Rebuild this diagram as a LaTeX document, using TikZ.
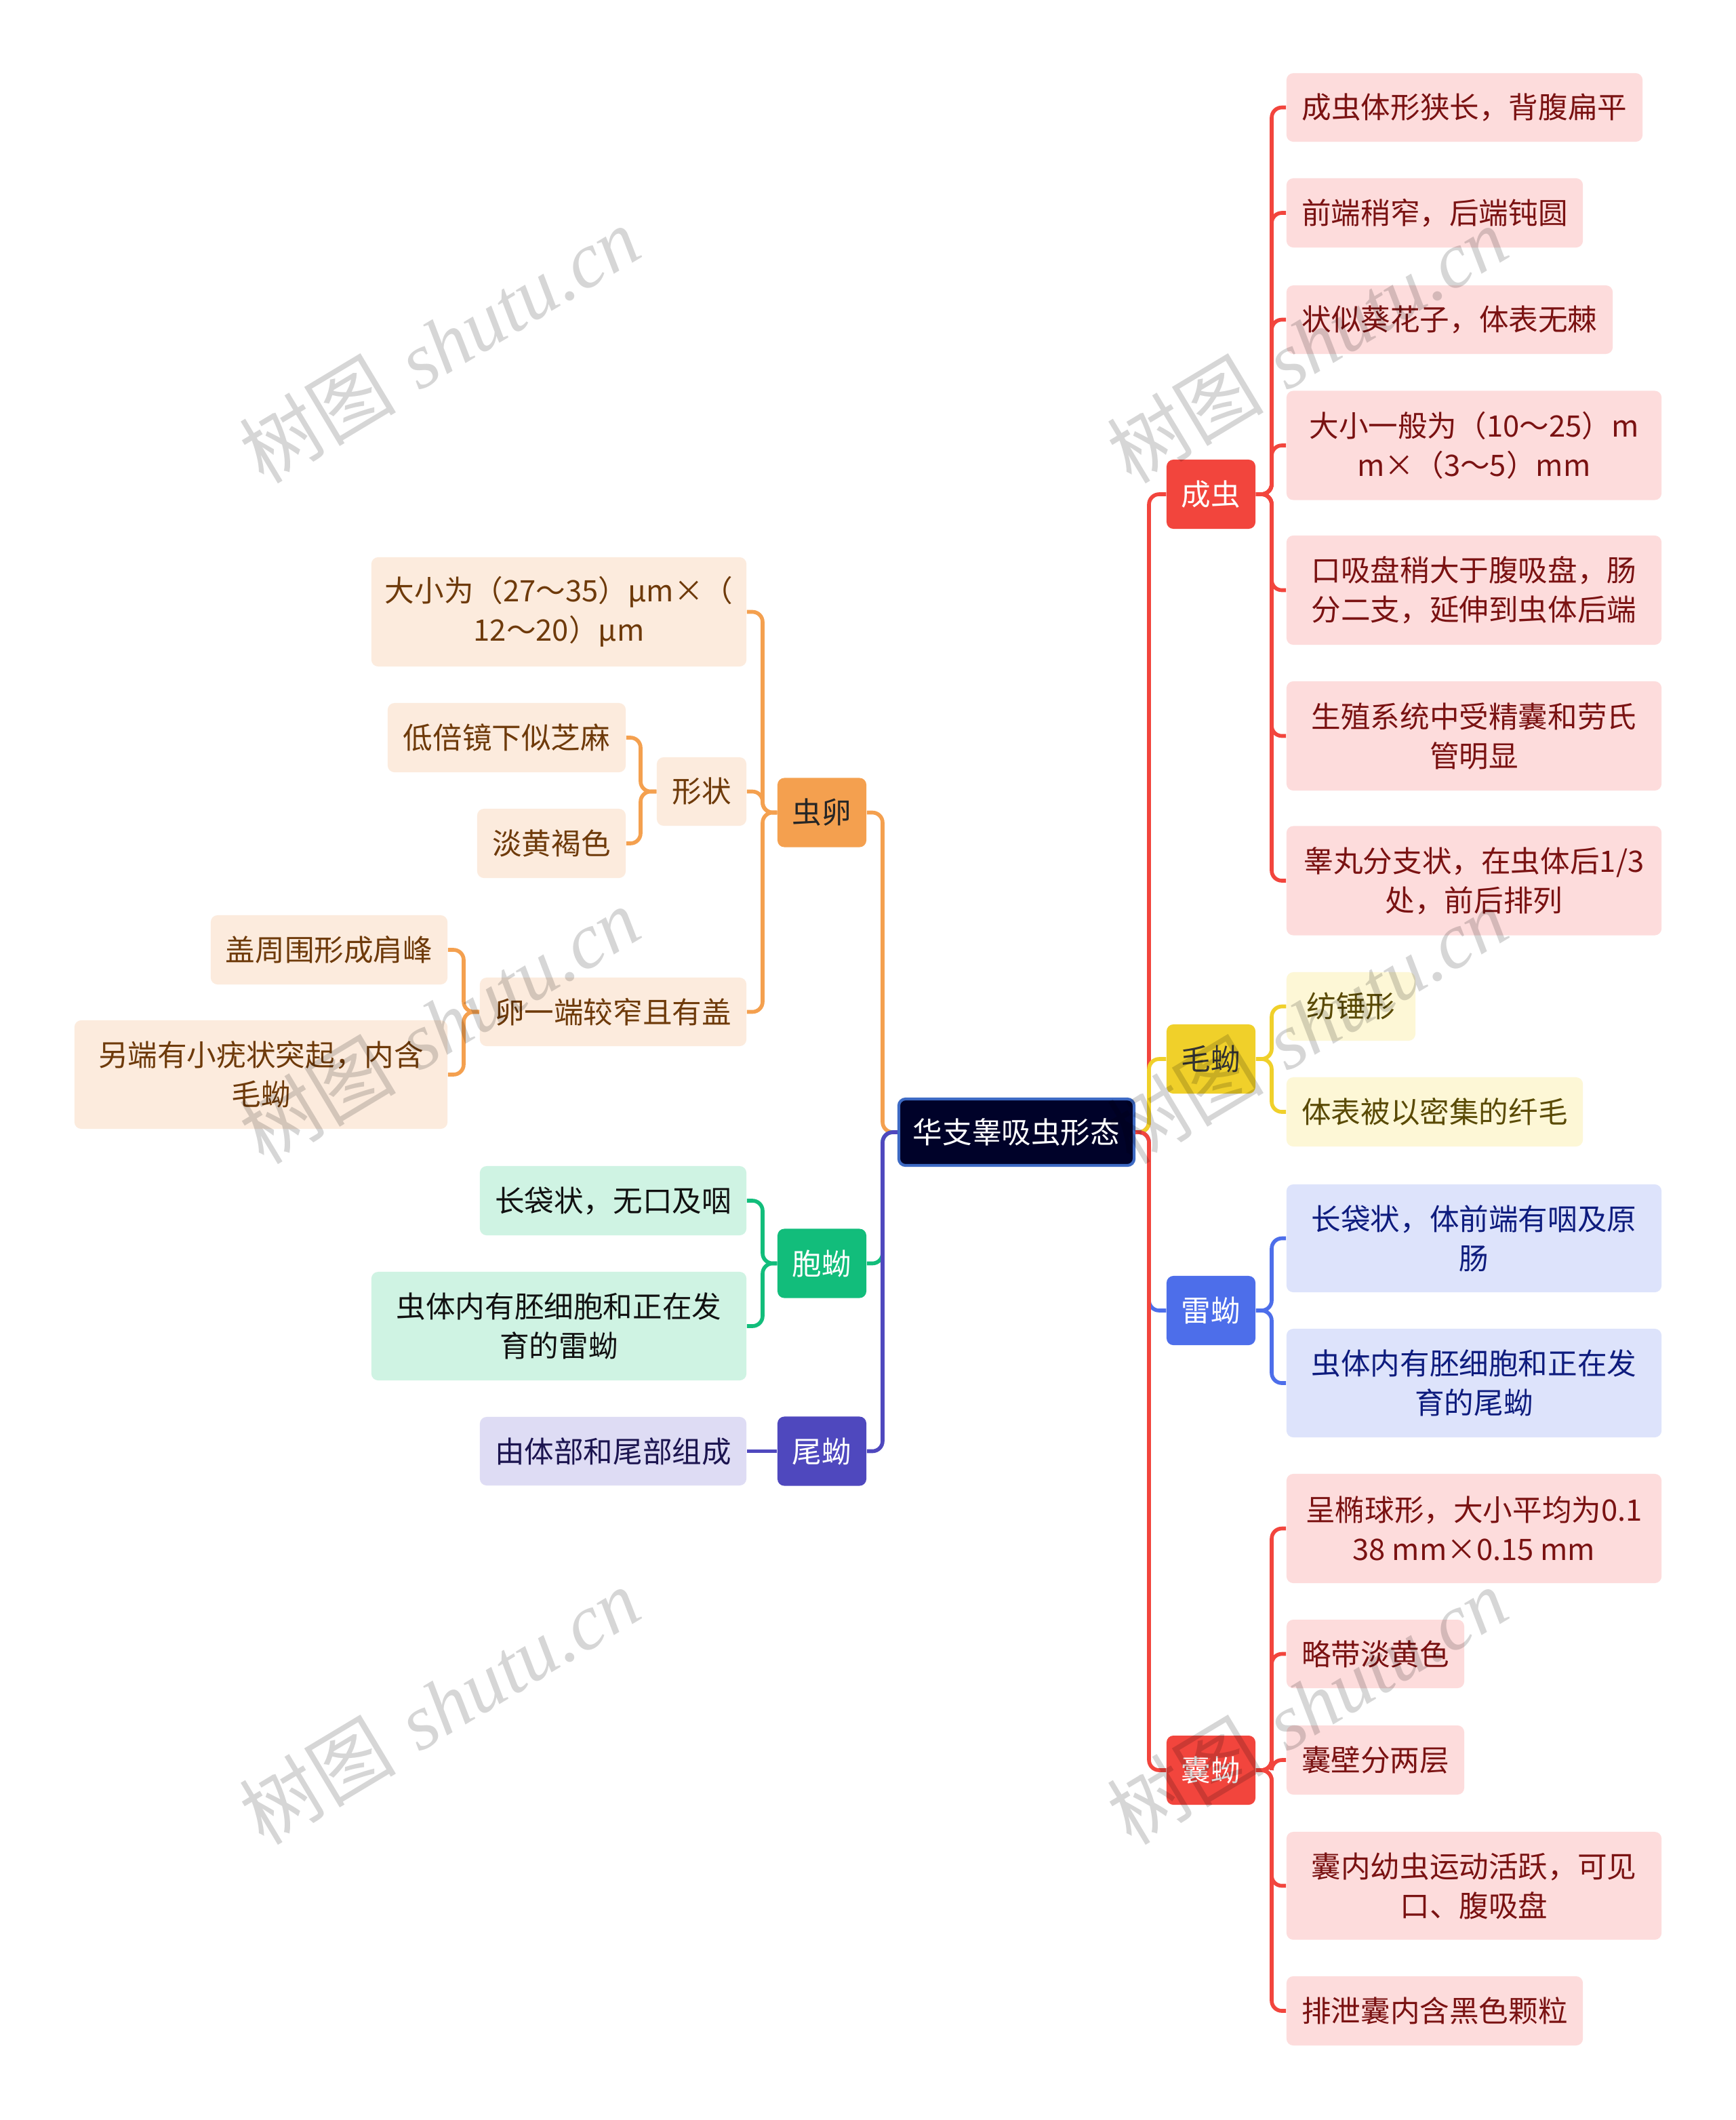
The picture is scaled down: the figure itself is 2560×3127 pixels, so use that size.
\documentclass[tikz,border=0pt]{standalone}
\usepackage{fontspec}
\newfontfamily\cjk{Noto Sans CJK SC}
\newfontfamily\wmserif{Liberation Serif}
\definecolor{cRed}{HTML}{F2453D}
\definecolor{cYel}{HTML}{F0D02A}
\definecolor{cBlu}{HTML}{4D6EEA}
\definecolor{cOra}{HTML}{F4A04F}
\definecolor{cGrn}{HTML}{12BD7B}
\definecolor{cInd}{HTML}{4F48BE}
\definecolor{rootF}{HTML}{000229}
\definecolor{rootB}{HTML}{3D6AC4}
\definecolor{pinkF}{HTML}{FDDCDC}
\definecolor{pinkT}{HTML}{7A1212}
\definecolor{yelF}{HTML}{FDF7D6}
\definecolor{yelT}{HTML}{5A4A05}
\definecolor{bluF}{HTML}{DDE3FB}
\definecolor{bluT}{HTML}{0E1C7E}
\definecolor{oraF}{HTML}{FCEBDD}
\definecolor{oraT}{HTML}{6E3A0A}
\definecolor{grnF}{HTML}{CFF3E3}
\definecolor{grnT}{HTML}{111111}
\definecolor{indF}{HTML}{DEDCF4}
\definecolor{indT}{HTML}{1C1550}
\begin{document}
\begin{tikzpicture}[x=0.01cm,y=-0.01cm,
  base/.style={rounded corners=0.1cm, inner sep=0pt, align=center,
    font=\cjk\fontsize{12.4pt}{16.5pt}\selectfont},
  lone/.style={base, minimum width=1.31cm, minimum height=1.02cm},
  leafR/.style={base, fill=pinkF, text=pinkT},
  leafY/.style={base, fill=yelF, text=yelT},
  leafB/.style={base, fill=bluF, text=bluT},
  leafO/.style={base, fill=oraF, text=oraT},
  leafG/.style={base, fill=grnF, text=grnT},
  leafI/.style={base, fill=indF, text=indT},
  conn/.style={line width=1.6pt, rounded corners=0.15cm},
  wm/.style={rotate=31, text=black, opacity=0.16, font=\fontsize{33pt}{33pt}\selectfont}
]
\useasboundingbox (0,0) rectangle (2560,3127);
\fill[white] (0,0) rectangle (2560,3127);

% root
\node[base, fill=rootF, draw=rootB, line width=1.2pt, text=white,
  minimum width=3.47cm, minimum height=0.98cm] (root) at (1499.5,1670) {华支睾吸虫形态};

% level 1
\node[lone, fill=cRed, text=white] (cc) at (1786.5,729) {成虫};
\node[lone, fill=cYel, text=black!80] (mm) at (1786.5,1562) {毛蚴};
\node[lone, fill=cBlu, text=white] (lm) at (1786.5,1933) {雷蚴};
\node[lone, fill=cRed, text=white] (nm) at (1786.5,2611) {囊蚴};
\node[lone, fill=cOra, text=black!85] (cl) at (1212.5,1198.5) {虫卵};
\node[lone, fill=cGrn, text=white] (bm) at (1212.5,1863.5) {胞蚴};
\node[lone, fill=cInd, text=white] (wy) at (1212.5,2140.5) {尾蚴};

% right leaves
\node[leafR, minimum width=5.25cm, minimum height=1.01cm] (r1) at (2160.5,158.5) {成虫体形狭长，背腹扁平};
\node[leafR, minimum width=4.37cm, minimum height=1.02cm] (r2) at (2116.5,314) {前端稍窄，后端钝圆};
\node[leafR, minimum width=4.81cm, minimum height=1.01cm] (r3) at (2138.5,471.5) {状似葵花子，体表无棘};
\node[leafR, minimum width=5.53cm, minimum height=1.61cm] (r4) at (2174.5,657) {大小一般为（10～25）m\\m×（3～5）mm};
\node[leafR, minimum width=5.53cm, minimum height=1.61cm] (r5) at (2174.5,870.5) {口吸盘稍大于腹吸盘，肠\\分二支，延伸到虫体后端};
\node[leafR, minimum width=5.53cm, minimum height=1.61cm] (r6) at (2174.5,1085.5) {生殖系统中受精囊和劳氏\\管明显};
\node[leafR, minimum width=5.53cm, minimum height=1.61cm] (r7) at (2174.5,1299) {睾丸分支状，在虫体后1/3\\处，前后排列};

\node[leafY, minimum width=1.90cm, minimum height=1.01cm] (y1) at (1993,1484.5) {纺锤形};
\node[leafY, minimum width=4.37cm, minimum height=1.02cm] (y2) at (2116.5,1640) {体表被以密集的纤毛};

\node[leafB, minimum width=5.53cm, minimum height=1.59cm] (b1) at (2174.5,1826.5) {长袋状，体前端有咽及原\\肠};
\node[leafB, minimum width=5.53cm, minimum height=1.60cm] (b2) at (2174.5,2040) {虫体内有胚细胞和正在发\\育的尾蚴};

\node[leafR, minimum width=5.53cm, minimum height=1.61cm] (n1) at (2174.5,2254.5) {呈椭球形，大小平均为0.1\\38 mm×0.15 mm};
\node[leafR, minimum width=2.62cm, minimum height=1.01cm] (n2) at (2029,2439.5) {略带淡黄色};
\node[leafR, minimum width=2.62cm, minimum height=1.02cm] (n3) at (2029,2596) {囊壁分两层};
\node[leafR, minimum width=5.53cm, minimum height=1.59cm] (n4) at (2174.5,2781.5) {囊内幼虫运动活跃，可见\\口、腹吸盘};
\node[leafR, minimum width=4.37cm, minimum height=1.02cm] (n5) at (2116.5,2966) {排泄囊内含黑色颗粒};

% left leaves
\node[leafO, minimum width=5.53cm, minimum height=1.61cm] (e1) at (824.5,902.5) {大小为（27～35）μm×（\\12～20）μm};
\node[leafO, minimum width=1.32cm, minimum height=1.01cm] (e2) at (1035,1167.5) {形状};
\node[leafO, minimum width=3.93cm, minimum height=1.01cm] (e3) at (904.5,1492.5) {卵一端较窄且有盖};
\node[leafO, minimum width=3.51cm, minimum height=1.02cm] (s1) at (747.5,1088) {低倍镜下似芝麻};
\node[leafO, minimum width=2.19cm, minimum height=1.02cm] (s2) at (813.5,1244) {淡黄褐色};
\node[leafO, minimum width=3.49cm, minimum height=1.02cm] (l1) at (485.5,1401) {盖周围形成肩峰};
\node[leafO, minimum width=5.50cm, minimum height=1.60cm] (l2) at (385,1585) {另端有小疣状突起，内含\\毛蚴};

\node[leafG, minimum width=3.93cm, minimum height=1.02cm] (g1) at (904.5,1771) {长袋状，无口及咽};
\node[leafG, minimum width=5.53cm, minimum height=1.60cm] (g2) at (824.5,1956) {虫体内有胚细胞和正在发\\育的雷蚴};
\node[leafI, minimum width=3.93cm, minimum height=1.01cm] (i1) at (904.5,2140.5) {由体部和尾部组成};

% root -> level 1 (right)
\draw[conn, cRed] (root.east) -- (1695,1670) |- (cc.west);
\draw[conn, cYel] (root.east) -- (1695,1670) |- (mm.west);
\draw[conn, cBlu] (root.east) -- (1695,1670) |- (lm.west);
\draw[conn, cRed] (root.east) -- (1695,1670) |- (nm.west);
% root -> level 1 (left)
\draw[conn, cOra] (root.west) -- (1302,1670) |- (cl.east);
\draw[conn, cGrn] (root.west) -- (1302,1670) |- (bm.east);
\draw[conn, cInd] (root.west) -- (1302,1670) |- (wy.east);

% 成虫
\foreach \t in {r1,r2,r3,r4,r5,r6,r7}
  \draw[conn, cRed] (cc.east) -- (1876,729) |- (\t.west);
% 毛蚴
\foreach \t in {y1,y2}
  \draw[conn, cYel] (mm.east) -- (1876,1562) |- (\t.west);
% 雷蚴
\foreach \t in {b1,b2}
  \draw[conn, cBlu] (lm.east) -- (1876,1933) |- (\t.west);
% 囊蚴
\foreach \t in {n1,n2,n3,n4,n5}
  \draw[conn, cRed] (nm.east) -- (1876,2611) |- (\t.west);
% 虫卵
\foreach \t in {e1,e2,e3}
  \draw[conn, cOra] (cl.west) -- (1125,1198.5) |- (\t.east);
\foreach \t in {s1,s2}
  \draw[conn, cOra] (e2.west) -- (945,1167.5) |- (\t.east);
\foreach \t in {l1,l2}
  \draw[conn, cOra] (e3.west) -- (684,1492.5) |- (\t.east);
% 胞蚴
\foreach \t in {g1,g2}
  \draw[conn, cGrn] (bm.west) -- (1125,1863.5) |- (\t.east);
% 尾蚴
\draw[conn, cInd] (wy.west) -- (i1.east);

% watermarks
\foreach \p in {(648,508),(1928,508),(648,1512),(1928,1512),(648,2516),(1928,2516)}
  \node[wm] at \p {{\cjk 树图} {\wmserif\itshape shutu.cn}};
\end{tikzpicture}
\end{document}
